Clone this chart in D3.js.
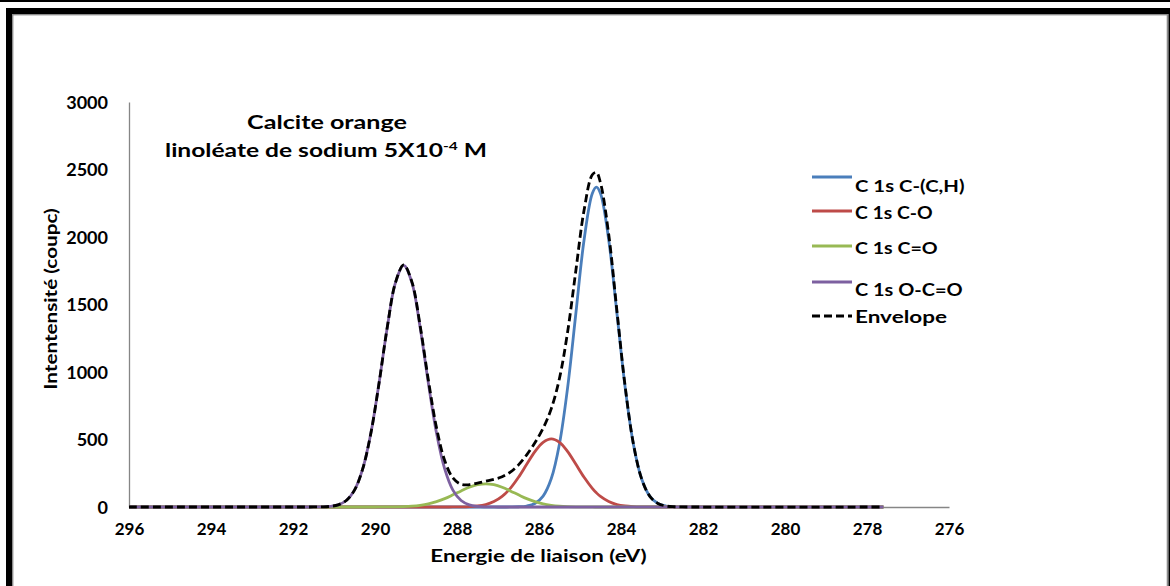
<!DOCTYPE html>
<html><head><meta charset="utf-8">
<script src="https://cdn.jsdelivr.net/npm/d3@7"></script>
<style>
body{margin:0;background:#fff;}
svg{display:block;}
text{font-family:Lato,"Open Sans",sans-serif;font-weight:bold;fill:#000;}
</style>
</head><body>
<svg id="chart" width="1170" height="586"></svg>
<script>
// Binding energy grid (eV)
const energies = [296, 291.9, 291.7, 291.5, 291.3, 291.1, 290.9, 290.7, 290.5, 290.3, 290.1,
  289.9, 289.7, 289.5, 289.3, 289.1, 288.9, 288.7, 288.5, 288.3, 288.1,
  287.9, 287.7, 287.5, 287.3, 287.1, 286.9, 286.7, 286.5, 286.3, 286.1,
  285.9, 285.7, 285.5, 285.3, 285.1, 284.9, 284.7, 284.6, 284.5, 284.3, 284.1,
  283.9, 283.7, 283.5, 283.3, 283.1, 282.9, 282.7, 282.5, 277.6];
// C 1s C-(C,H)
const compCH = [0, 0,0,0,0,0,0,0,0,0,0, 0,0,0,0,0,0,0,0,0,0, 0,0,0,0,0,0,
  0.4,1.7,7.3,26,81,211,469,889,1437,1980,2323,2370,2323,1980,1437,889,469,211,81,26,7.3,1.7,0.4, 0];
// C 1s C-O
const compCO = [0,0,0,0,0,0,0,0,0,0,0,0,0,0,0,0,0,0,0,
  0.1,0.3,0.9,2.8,7.5,18,40,78,138,220,316,410,479,505,479,410,316,220,138,105,78,40,18,7.5,2.8,0.9,0.3,0.1,
  0,0,0,0];
// C 1s C=O
const compCdO = [0,0,0,0,0,0,0,0,0,0,0,
  0.2,0.5,1.2,2.9,6.3,12.6,23,40,62,90,119,146,165,172,165,146,119,90,62,40,23,12.6,6.3,2.9,1.2,0.5,0.2,
  0,0,0,0,0,0,0,0,0,0,0,0,0];
// C 1s O-C=O
const compOCO = [0,0,0,
  0.2,1.1,4.5,16,48,125,282,548,920,1332,1662,1790,1662,1332,920,548,282,125,48,16,4.5,1.1,0.2,
  0,0,0,0,0,0,0,0,0,0,0,0,0,0,0,0,0,0,0,0,0,0,0,0,0];
// Envelope
const envelope = [0,0,0,0.2,1.1,4.5,16,48,125,282,548,920,1333,1663,1793,1668,1345,943,588,344,215,
  168,165,177,191,205,224,258,312,386,476,583,729,954,1301,1754,2200,2461,2478,2401,2020,1455,
  897,472,212,81,26,7.3,1.7,0.4,0];

const seriesNames = ["C 1s C-(C,H)", "C 1s C-O", "C 1s C=O", "C 1s O-C=O", "Envelope"];
const xTicks = [296, 294, 292, 290, 288, 286, 284, 282, 280, 278, 276];
const yTicks = [0, 500, 1000, 1500, 2000, 2500, 3000];
const titleLine1 = "Calcite orange";
const titleLine2a = "linoléate de sodium 5X10";
const titleSup = "-4";
const titleLine2b = " M";
const xLabel = "Energie de liaison (eV)";
const yLabel = "Intentensité (coupc)";

const series = [
  {name: seriesNames[0], values: compCH, color: "#4A7EBB", dash: null},
  {name: seriesNames[1], values: compCO, color: "#BE4B48", dash: null},
  {name: seriesNames[2], values: compCdO, color: "#98B954", dash: null},
  {name: seriesNames[3], values: compOCO, color: "#7D60A0", dash: null},
  {name: seriesNames[4], values: envelope, color: "#000000", dash: "8,4"}
];

const svg = d3.select("#chart");

function stretch(sel, target, ax) {
  const w = sel.node().getBBox().width;
  const k = target / w;
  sel.attr("transform", `translate(${ax},0) scale(${k},1) translate(${-ax},0)`);
}

// frame
svg.append("rect").attr("x",0).attr("y",0).attr("width",1170).attr("height",2).attr("fill","#000");
svg.append("rect").attr("x",6).attr("y",8).attr("width",1180).attr("height",600).attr("fill","#000");
svg.append("rect").attr("x",12).attr("y",14).attr("width",1156.7).attr("height",600).attr("fill","#8c8c8c");
svg.append("rect").attr("x",13.4).attr("y",15.4).attr("width",1153.3).attr("height",600).attr("fill","#fff");

const x = d3.scaleLinear().domain([296, 276]).range([129, 949]);
const y = d3.scaleLinear().domain([0, 3000]).range([507, 102]);

// axes
const gx = svg.append("g").attr("transform","translate(0,507)")
  .call(d3.axisBottom(x).tickValues(xTicks).tickSize(0).tickPadding(0).tickFormat(d3.format("d")));
gx.select(".domain").attr("stroke","#868686").attr("stroke-width",1.3);
gx.selectAll("text").attr("y",28).attr("dy",null).style("font-size","17px")
  .style("font-family",'Lato,"Open Sans",sans-serif').style("font-weight","bold").attr("fill","#000");

const gy = svg.append("g").attr("transform","translate(129,0)")
  .call(d3.axisLeft(y).tickValues(yTicks).tickSize(0).tickPadding(0).tickFormat(d3.format("d")));
gy.select(".domain").attr("stroke","#868686").attr("stroke-width",1.3);
const yTickTexts = gy.selectAll("text").attr("x",-21).attr("dy","0.36em").style("font-size","17px")
  .style("font-family",'Lato,"Open Sans",sans-serif').style("font-weight","bold").attr("fill","#000");
{
  const top = yTickTexts.filter(d => d === 3000);
  const k = 42 / top.node().getBBox().width;
  yTickTexts.attr("transform", `translate(-21,0) scale(${k},1) translate(21,0)`);
}

// lines
const line = d3.line().curve(d3.curveCatmullRom.alpha(0.5));
series.forEach(s => {
  const pts = energies.map((e, i) => [x(e), y(s.values[i])]);
  svg.append("path").attr("d", line(pts)).attr("fill","none")
    .attr("stroke", s.color).attr("stroke-width", 2.8)
    .attr("stroke-dasharray", s.dash).attr("stroke-linejoin","round");
});

// titles
const t1 = svg.append("text").attr("x",327).attr("y",129.5).attr("text-anchor","middle")
  .style("font-size","19px").text(titleLine1);
stretch(t1, 160, 327);
const t2 = svg.append("text").attr("x",326).attr("y",157).attr("text-anchor","middle").style("font-size","19px");
t2.append("tspan").text(titleLine2a);
t2.append("tspan").attr("dy",-7).style("font-size","12px").text(titleSup);
t2.append("tspan").attr("dy",7).text(titleLine2b);
stretch(t2, 322, 326);

const xt = svg.append("text").attr("x",538.5).attr("y",562).attr("text-anchor","middle")
  .style("font-size","17px").text(xLabel);
stretch(xt, 217, 538.5);
const yg = svg.append("g").attr("transform","translate(57,299) rotate(-90)");
const yt = yg.append("text").attr("x",0).attr("y",0).attr("text-anchor","middle")
  .style("font-size","17px").text(yLabel);
stretch(yt, 182, 0);

// legend
const legY = [177, 211, 246, 282, 316];
const legTextY = [192, 219.5, 254.5, 296.5, 323];
const legW = [110, 78, 83, 108, 92];
series.forEach((s, i) => {
  svg.append("line").attr("x1",812).attr("x2",852).attr("y1",legY[i]).attr("y2",legY[i])
    .attr("stroke", s.color).attr("stroke-width",2.8).attr("stroke-dasharray", s.dash);
  const lt = svg.append("text").attr("x",855).attr("y",legTextY[i]).style("font-size","17px").text(s.name);
  stretch(lt, legW[i], 855);
});
</script>
</body></html>
